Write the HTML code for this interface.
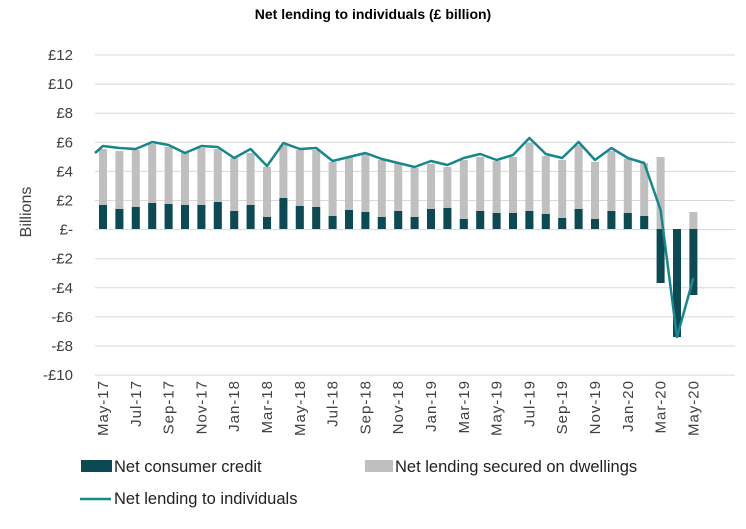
<!DOCTYPE html>
<html><head><meta charset="utf-8"><style>
body{margin:0;background:#fff;}
svg{display:block;font-family:"Liberation Sans",sans-serif;}
</style></head><body>
<svg id="s" width="746" height="529" viewBox="0 0 746 529" xmlns="http://www.w3.org/2000/svg">
<text x="373" y="19" text-anchor="middle" font-size="14" font-weight="bold" fill="#000">Net lending to individuals (£ billion)</text>
<g id="grid"></g>
<g id="bars"></g>
<polyline id="line" fill="none" stroke="#16878f" stroke-width="2.5" stroke-linejoin="round"/>
<g id="xl" font-size="15" fill="#404040"></g>
<text transform="translate(31,212) rotate(-90)" text-anchor="middle" font-size="16" fill="#404040">Billions</text>
<rect x="81" y="460" width="31" height="12" fill="#0b4a52"/>
<text x="114" y="472" font-size="16.5" fill="#222">Net consumer credit</text>
<rect x="365" y="460" width="28" height="12" fill="#bfbfbf"/>
<text x="395" y="472" font-size="16.5" fill="#222">Net lending secured on dwellings</text>
<line x1="80" y1="499" x2="111" y2="499" stroke="#16878f" stroke-width="2.5"/>
<text x="114" y="504" font-size="16.5" fill="#222">Net lending to individuals</text>
</svg>
<script>
var NS="http://www.w3.org/2000/svg";
function el(t,a,p){var e=document.createElementNS(NS,t);for(var k in a)e.setAttribute(k,a[k]);document.getElementById(p).appendChild(e);return e;}
var labs=["£12","£10","£8","£6","£4","£2","£-","-£2","-£4","-£6","-£8","-£10"];
for(var i=0;i<12;i++){var y=55+i*29.1;
el("line",{x1:95,x2:735,y1:y,y2:y,stroke:"#d9d9d9","stroke-width":1},"grid");
var t=el("text",{x:73,y:y+5,"text-anchor":"end","font-size":15,fill:"#404040"},"grid");t.textContent=labs[i];}
var Z=229;
var g=[149,151,150,144,147,153,148,149,158,153,167,145,150,150,162,157,154,160,163,168,164,167,160,157,161,157,143,156,160,145,162,151,159,163,157,229,212];
var c=[205,209,207,203,204,205,205,202,211,205,217,198,206,207,216,210,212,217,211,217,209,208,219,211,213,213,211,214,218,209,219,211,213,216,283,337,295];
var l=[146,148,149,142,145,153,146,147,158,149,166,143,149,148,161,157,153,159,163,167,161,165,158,154,160,155,138,154,158,142,160,148,158,163,210,337,278];
var pts=["95,153"];
for(var i=0;i<37;i++){var x=103+16.4*i;
if(g[i]<Z)el("rect",{x:x-4,y:g[i],width:8,height:Z-g[i],fill:"#bfbfbf"},"bars");
if(c[i]<Z)el("rect",{x:x-4,y:c[i],width:8,height:Z-c[i],fill:"#0b4a52"},"bars");
else el("rect",{x:x-4,y:Z,width:8,height:c[i]-Z,fill:"#0b4a52"},"bars");
pts.push(x.toFixed(1)+","+l[i]);}
document.getElementById("line").setAttribute("points",pts.join(" "));
var m=["May","Jul","Sep","Nov","Jan","Mar"];
for(var k=0;k<19;k++){var x=103+16.4*2*k;var yr=17+Math.floor((k+2)/6);
var t=el("text",{transform:"translate("+(x+5)+",380) rotate(-90)","text-anchor":"end","font-size":15,"letter-spacing":"1",fill:"#404040"},"xl");
t.textContent=m[k%6]+"-"+yr;}
</script>
</body></html>
